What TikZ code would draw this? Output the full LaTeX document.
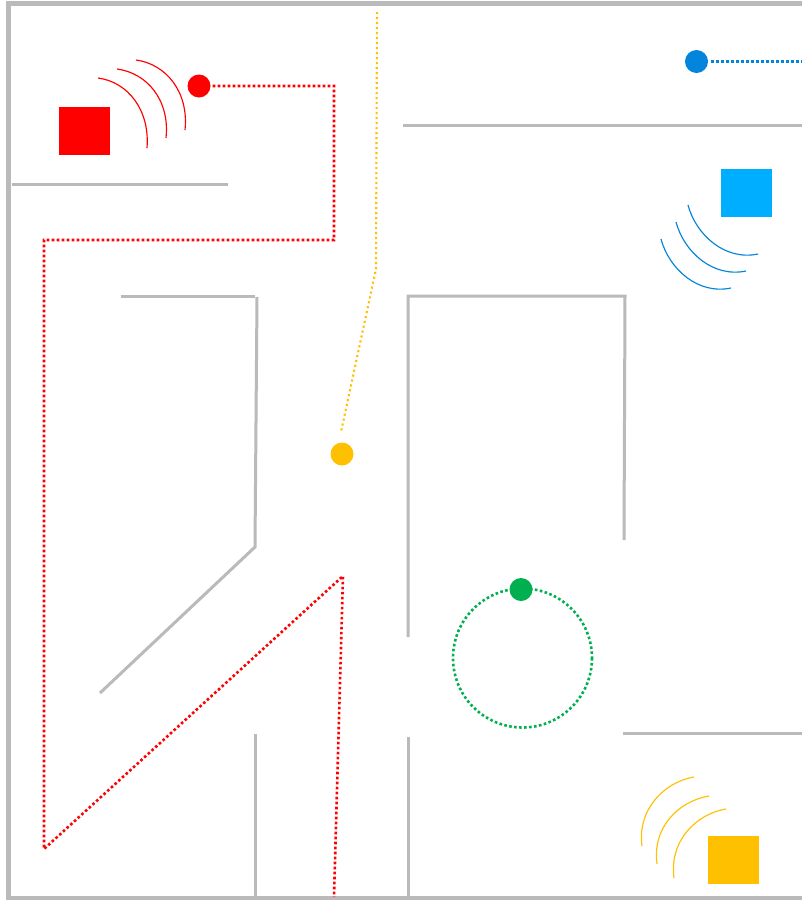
\documentclass[tikz,border=0pt]{standalone}
\definecolor{wallc}{HTML}{BABABA}
\definecolor{redc}{HTML}{FF0000}
\definecolor{bluec}{HTML}{0285DB}
\definecolor{cyanc}{HTML}{00AEFF}
\definecolor{yellowc}{HTML}{FFC000}
\definecolor{greenc}{HTML}{00B050}
\tikzset{x=1pt,y=-1pt,
 wall/.style={draw=wallc,line width=3pt},
 route/.style={line width=2.6pt,dash pattern=on 2.6pt off 2.4pt},
 wave/.style={line width=1.15pt},
 dot/.style={circle,inner sep=0pt,minimum size=#1,draw=none},
 robot/.style={inner sep=0pt,draw=none}}
\begin{document}
\begin{tikzpicture}
\useasboundingbox (0,0) rectangle (802,900);
\fill[white] (0,0) rectangle (802,900);
% walls
\draw[wallc,line width=5pt] (802,3) -- (8.5,3) -- (8.5,898.5) -- (802,898.5);
\draw[wall] (403,125) -- (802,125);
\draw[wall] (12,184) -- (228,184);
\draw[wall] (121,296) -- (255,296);
\draw[wall] (257,297) -- (255,547) -- (100,693);
\draw[wall] (408,637) -- (408,296) -- (625,296) -- (624,540);
\draw[wall] (255,734) -- (255,896);
\draw[wall] (408,737) -- (408,896);
\draw[wall] (623,733) -- (802,733);
% robots
\node[robot,fill=redc,minimum width=51pt,minimum height=48pt] (r1) at (84.5,131) {};
\node[robot,fill=cyanc,minimum width=51pt,minimum height=48pt] (r2) at (746.5,193) {};
\node[robot,fill=yellowc,minimum width=51pt,minimum height=48pt] (r3) at (733.5,860) {};
% dots
\node[dot=23pt,fill=redc] (d1) at (199,86) {};
\node[dot=23pt,fill=bluec] (d2) at (696.5,61.5) {};
\node[dot=23pt,fill=yellowc] (d3) at (342,454) {};
\coordinate (e2) at (802,61.5);
\coordinate (y0) at (377,12);
\coordinate (y1) at (376,269);
\coordinate (y2) at (341,432);
% routes
\draw[route,redc] ([xshift=2pt]d1.east) -- (334,86) -- (334,240) -- (44,240) -- (44,849) -- (343,576) -- (334,897);
\draw[route,bluec] ([xshift=3pt]d2.east) -- (e2);
\draw[yellowc,line width=2.1pt,dash pattern=on 2.1pt off 2.9pt] (y0) -- (y1) -- (y2);
\draw[route,greenc] (522.5,658) circle (69.5);
\node[dot=23pt,fill=greenc] (d4) at (521,589.5) {};
% waves
\draw[wave,redc] (98,78) .. controls (128,82) and (150,110) .. (147,148);
\draw[wave,redc] (117,69) .. controls (147,73) and (170,100) .. (166,138);
\draw[wave,redc] (136,60) .. controls (166,64) and (189,92) .. (185,130);
\draw[wave,bluec] (688,205) .. controls (696,235) and (725,261) .. (758,254);
\draw[wave,bluec] (676,222) .. controls (684,252) and (713,278) .. (746,271);
\draw[wave,bluec] (661,239) .. controls (669,269) and (698,295) .. (731,288);
\draw[wave,yellowc] (694,777) .. controls (664,782) and (637,810) .. (642,846);
\draw[wave,yellowc] (709,796) .. controls (679,801) and (652,827) .. (657,864);
\draw[wave,yellowc] (726,809) .. controls (696,814) and (669,841) .. (674,878);
\end{tikzpicture}
\end{document}
